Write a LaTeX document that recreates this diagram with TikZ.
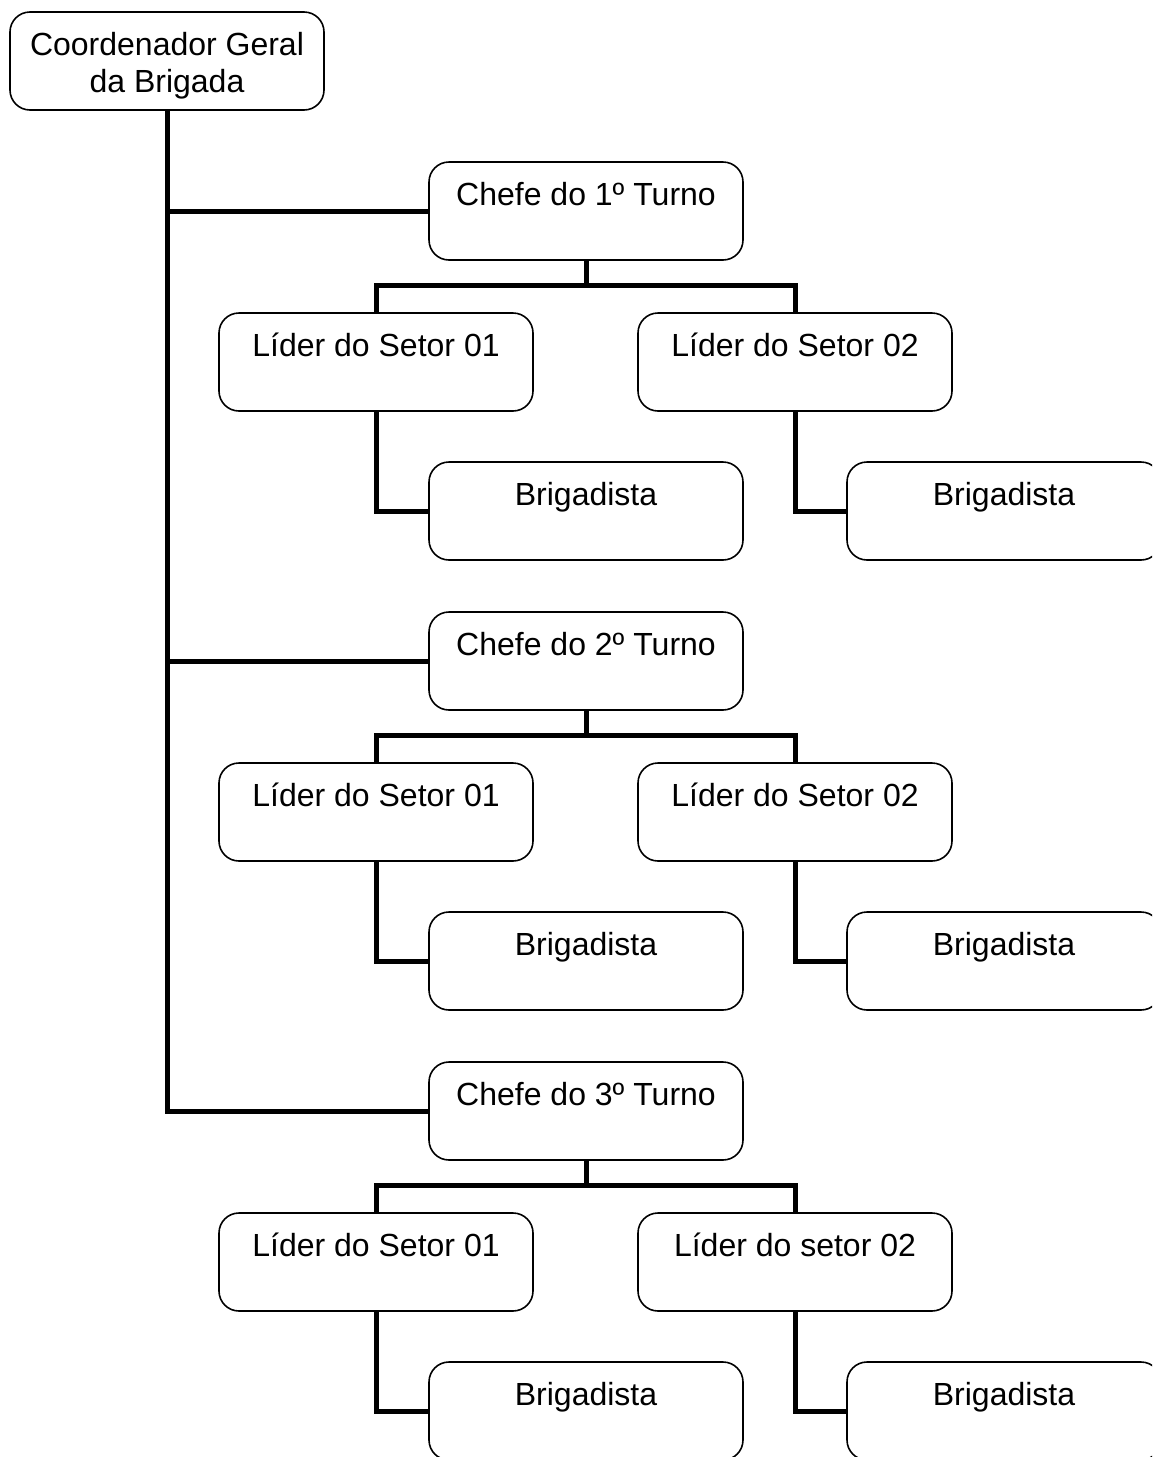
\documentclass[tikz,border=0pt]{standalone}
\usepackage{fontspec}
\setmainfont{Liberation Sans}
\begin{document}
\begin{tikzpicture}[x=1pt,y=-1pt,
  box/.style={draw=black, line width=1.6pt, rounded corners=20pt, minimum width=314pt,
    inner xsep=0pt, inner ysep=0pt, text height=43pt, text depth=55pt,
    font=\fontsize{32}{37}\selectfont},
  wire/.style={line width=5pt, black}]
\useasboundingbox (0,0) rectangle (1152,1457);
\clip (0,0) rectangle (1152,1457);
\node[box, text height=, text depth=, minimum height=98pt] (coord) at (167,61) {};
\node[anchor=base, align=center, inner sep=0pt, font=\fontsize{32}{37}\selectfont] (coordlbl) at (167,92) {Coordenador Geral\\da Brigada};
\foreach \i/\n/\s in {0/1/Setor 02, 1/2/Setor 02, 2/3/setor 02}{
  \pgfmathsetmacro{\dy}{450*\i}
  \node[box] (c\n) at (586,211+\dy) {Chefe do \n º Turno};
  \node[box] (la\n) at (376,362+\dy) {Líder do Setor 01};
  \node[box] (lb\n) at (795,362+\dy) {Líder do \s};
  \node[box] (ba\n) at (586,511+\dy) {Brigadista};
  \node[box] (bb\n) at (1004,511+\dy) {Brigadista};
  \draw[wire] (c\n.south) -- ++(0,26.5);
  \draw[wire] (la\n.north) -- ++(0,-26.5) -| (lb\n.north);
  \draw[wire] (la\n.south) |- (ba\n.west);
  \draw[wire] (lb\n.south) |- (bb\n.west);
}
\draw[wire] (coord.south) |- (c3.west);
\draw[wire] (coord.south |- c1.west) -- (c1.west);
\draw[wire] (coord.south |- c2.west) -- (c2.west);
\end{tikzpicture}
\end{document}
